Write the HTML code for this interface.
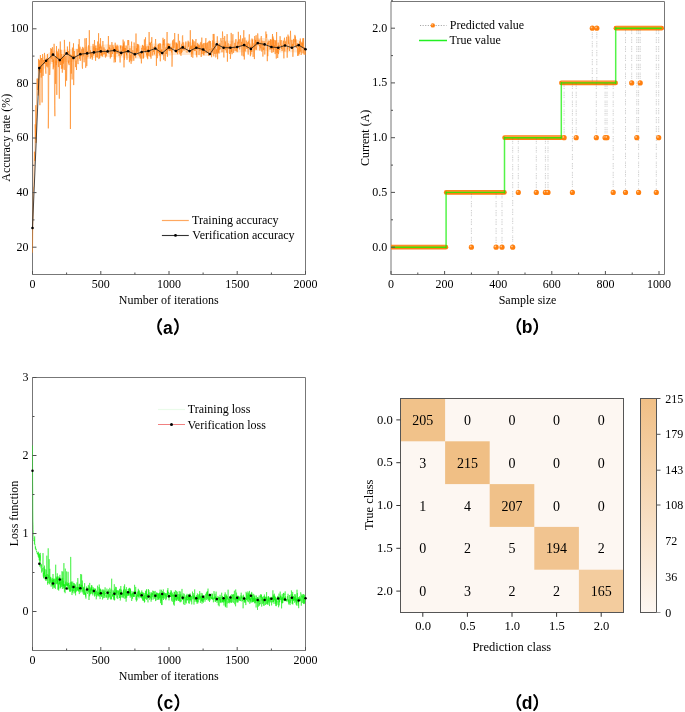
<!DOCTYPE html>
<html><head><meta charset="utf-8"><style>
html,body{margin:0;padding:0;background:#fff;width:685px;height:712px;overflow:hidden}
svg{display:block;will-change:transform}
text{font-family:"Liberation Serif",serif;fill:#000}
text.pl{font-family:"Liberation Sans",sans-serif;font-weight:bold;font-size:17.5px;fill:#000}
</style></head><body>
<svg width="685" height="712" viewBox="0 0 685 712"><g>
<path d="M32.5,1.5H305.5V274.5H32.5Z" fill="none" stroke="#777" stroke-width="1"/>
<g id="pa">
<polygon points="39.3,60.2 42.1,58.5 44.8,55.7 47.5,53.5 50.2,52.1 53.0,50.7 55.7,50.5 58.4,50.3 61.2,50.1 63.9,49.7 66.6,49.4 69.4,49.2 72.1,49.1 74.8,48.8 77.5,48.5 80.3,48.1 83.0,47.5 85.7,46.8 88.5,46.3 91.2,46.0 93.9,45.6 96.7,45.3 99.4,45.0 102.1,44.7 104.8,44.5 107.6,44.3 110.3,44.4 113.0,44.4 115.8,44.6 118.5,44.8 121.2,45.0 124.0,45.2 126.7,45.5 129.4,45.7 132.1,45.9 134.9,46.2 137.6,45.9 140.3,45.7 143.1,45.2 145.8,44.5 148.5,43.8 151.3,43.7 154.0,43.5 156.7,43.5 159.4,43.6 162.2,43.7 164.9,43.4 167.6,43.1 170.4,42.8 173.1,42.6 175.8,42.4 178.6,42.4 181.3,42.4 184.0,42.4 186.7,42.5 189.5,42.5 192.2,42.4 194.9,42.2 197.7,42.4 200.4,42.9 203.1,43.3 205.9,43.5 208.6,43.6 211.3,43.0 214.0,41.9 216.8,40.7 219.5,40.5 222.2,40.2 225.0,40.2 227.7,40.4 230.4,40.7 233.2,40.4 235.9,40.0 238.6,39.8 241.3,39.8 244.1,39.7 246.8,39.7 249.5,39.7 252.3,39.3 255.0,38.7 257.7,38.1 260.5,38.0 263.2,37.9 265.9,38.3 268.6,39.0 271.4,39.7 274.1,39.9 276.8,40.1 279.6,40.1 282.3,39.9 285.0,39.8 287.8,39.7 290.5,39.7 293.2,39.7 295.9,39.8 298.7,39.9 301.4,40.9 304.1,41.9 304.1,54.4 301.4,53.5 298.7,52.5 295.9,52.4 293.2,52.3 290.5,52.3 287.8,52.3 285.0,52.3 282.3,52.5 279.6,52.6 276.8,52.6 274.1,52.4 271.4,52.3 268.6,51.5 265.9,50.8 263.2,50.5 260.5,50.5 257.7,50.6 255.0,51.3 252.3,51.9 249.5,52.2 246.8,52.2 244.1,52.3 241.3,52.3 238.6,52.4 235.9,52.6 233.2,52.9 230.4,53.3 227.7,53.0 225.0,52.7 222.2,52.7 219.5,53.0 216.8,53.3 214.0,54.5 211.3,55.6 208.6,56.1 205.9,56.0 203.1,55.9 200.4,55.4 197.7,55.0 194.9,54.8 192.2,54.9 189.5,55.1 186.7,55.0 184.0,55.0 181.3,55.0 178.6,54.9 175.8,54.9 173.1,55.1 170.4,55.4 167.6,55.6 164.9,55.9 162.2,56.3 159.4,56.2 156.7,56.1 154.0,56.1 151.3,56.2 148.5,56.4 145.8,57.1 143.1,57.8 140.3,58.2 137.6,58.5 134.9,58.7 132.1,58.5 129.4,58.2 126.7,58.0 124.0,57.8 121.2,57.6 118.5,57.4 115.8,57.1 113.0,57.0 110.3,56.9 107.6,56.9 104.8,57.1 102.1,57.3 99.4,57.5 96.7,57.8 93.9,58.1 91.2,58.5 88.5,58.9 85.7,59.4 83.0,60.0 80.3,60.7 77.5,61.0 74.8,61.4 72.1,61.7 69.4,61.8 66.6,61.9 63.9,62.3 61.2,62.6 58.4,62.9 55.7,63.1 53.0,63.3 50.2,64.7 47.5,66.1 44.8,68.2 42.1,71.0 39.3,72.8" fill="#ff9a3c" opacity="0.22"/>
<polyline points="32.5,252.7 32.8,221.5 33.0,219.9 33.3,192.9 33.6,187.1 33.9,187.1 34.1,164.9 34.4,151.7 34.7,160.8 35.0,158.0 35.2,124.3 35.5,139.8 35.8,105.2 36.0,142.9 36.3,121.6 36.6,117.8 36.9,83.4 37.1,78.6 37.4,89.9 37.7,88.9 38.0,78.5 38.2,95.5 38.5,58.9 38.8,59.5 39.1,71.2 39.3,60.3 39.6,65.6 39.9,105.2 40.1,66.7 40.4,55.0 40.7,72.8 41.0,64.6 41.2,77.6 41.5,58.0 41.8,75.0 42.1,102.5 42.3,67.8 42.6,54.1 42.9,66.2 43.1,75.9 43.4,66.4 43.7,60.0 44.0,64.0 44.2,62.3 44.5,52.9 44.8,61.8 45.1,64.0 45.3,61.1 45.6,70.9 45.9,73.7 46.1,62.6 46.4,58.8 46.7,66.4 47.0,58.2 47.2,61.1 47.5,54.1 47.8,67.4 48.1,59.0 48.3,128.4 48.6,109.9 48.9,58.1 49.2,59.6 49.4,67.4 49.7,75.0 50.0,71.9 50.2,64.7 50.5,57.0 50.8,48.1 51.1,58.2 51.3,58.8 51.6,48.9 51.9,57.7 52.2,62.0 52.4,47.2 52.7,49.3 53.0,62.1 53.2,69.3 53.5,59.6 53.8,67.4 54.1,43.8 54.3,64.8 54.6,105.8 54.9,116.2 55.2,70.3 55.4,56.7 55.7,83.9 56.0,60.7 56.3,65.1 56.5,46.1 56.8,94.9 57.1,59.9 57.3,51.5 57.6,57.6 57.9,55.0 58.2,53.4 58.4,67.1 58.7,48.8 59.0,60.3 59.3,98.7 59.5,59.8 59.8,54.9 60.1,52.4 60.3,41.5 60.6,65.0 60.9,49.7 61.2,56.2 61.4,68.8 61.7,54.0 62.0,57.9 62.3,72.7 62.5,57.2 62.8,68.6 63.1,56.3 63.3,63.5 63.6,63.5 63.9,54.2 64.2,69.9 64.4,39.9 64.7,48.7 65.0,55.7 65.3,59.1 65.5,86.4 65.8,57.7 66.1,55.6 66.4,60.8 66.6,80.7 66.9,68.7 67.2,64.5 67.4,46.5 67.7,55.0 68.0,55.0 68.3,51.0 68.5,63.4 68.8,60.6 69.1,65.1 69.4,55.3 69.6,41.8 69.9,58.8 70.2,62.4 70.4,129.0 70.7,54.5 71.0,57.3 71.3,73.6 71.5,55.2 71.8,59.4 72.1,79.5 72.4,47.6 72.6,49.9 72.9,59.4 73.2,56.6 73.5,43.3 73.7,85.1 74.0,59.9 74.3,51.0 74.5,57.6 74.8,55.4 75.1,57.9 75.4,56.5 75.6,67.1 75.9,61.3 76.2,60.7 76.5,70.0 76.7,59.3 77.0,49.0 77.3,50.9 77.5,56.5 77.8,62.6 78.1,64.1 78.4,44.4 78.6,45.9 78.9,52.3 79.2,39.1 79.5,58.8 79.7,53.9 80.0,46.7 80.3,60.8 80.5,51.8 80.8,52.3 81.1,56.2 81.4,52.2 81.6,49.9 81.9,49.1 82.2,66.8 82.5,68.7 82.7,46.9 83.0,54.6 83.3,56.3 83.6,48.4 83.8,51.6 84.1,62.3 84.4,54.5 84.6,52.2 84.9,38.4 85.2,44.5 85.5,48.9 85.7,67.8 86.0,62.9 86.3,38.0 86.6,51.0 86.8,66.1 87.1,51.6 87.4,54.4 87.6,51.4 87.9,57.2 88.2,50.0 88.5,45.4 88.7,45.3 89.0,53.8 89.3,30.2 89.6,44.0 89.8,51.3 90.1,54.1 90.4,58.6 90.6,50.3 90.9,54.6 91.2,52.2 91.5,56.2 91.7,57.2 92.0,52.1 92.3,59.7 92.6,55.1 92.8,47.3 93.1,43.9 93.4,49.7 93.7,55.5 93.9,46.6 94.2,51.8 94.5,40.0 94.7,46.5 95.0,51.7 95.3,48.1 95.6,60.8 95.8,45.6 96.1,57.0 96.4,57.2 96.7,55.5 96.9,48.2 97.2,49.0 97.5,57.5 97.7,41.5 98.0,49.9 98.3,50.3 98.6,33.2 98.8,59.1 99.1,57.9 99.4,46.7 99.7,58.2 99.9,43.7 100.2,48.2 100.5,38.1 100.8,52.3 101.0,55.9 101.3,46.5 101.6,55.3 101.8,52.8 102.1,51.2 102.4,56.5 102.7,50.9 102.9,41.0 103.2,54.6 103.5,53.8 103.8,50.9 104.0,47.4 104.3,49.3 104.6,54.3 104.8,51.8 105.1,49.3 105.4,57.6 105.7,57.4 105.9,52.0 106.2,56.2 106.5,51.2 106.8,52.3 107.0,51.8 107.3,49.9 107.6,49.1 107.8,51.1 108.1,47.5 108.4,36.0 108.7,48.9 108.9,53.7 109.2,47.1 109.5,49.3 109.8,47.6 110.0,45.1 110.3,58.5 110.6,51.1 110.9,48.4 111.1,57.1 111.4,55.8 111.7,49.0 111.9,42.1 112.2,51.7 112.5,54.0 112.8,48.4 113.0,45.3 113.3,50.7 113.6,47.4 113.9,48.4 114.1,62.5 114.4,59.0 114.7,50.8 114.9,59.3 115.2,42.7 115.5,62.2 115.8,45.9 116.0,53.7 116.3,46.7 116.6,51.3 116.9,47.1 117.1,44.8 117.4,49.1 117.7,53.5 117.9,46.1 118.2,51.6 118.5,49.8 118.8,51.0 119.0,55.9 119.3,51.9 119.6,53.0 119.9,55.7 120.1,62.5 120.4,45.6 120.7,48.4 121.0,45.7 121.2,51.2 121.5,55.5 121.8,54.7 122.0,49.7 122.3,50.7 122.6,46.4 122.9,53.4 123.1,39.6 123.4,50.9 123.7,43.3 124.0,67.4 124.2,41.5 124.5,59.8 124.8,47.9 125.0,52.1 125.3,48.1 125.6,48.8 125.9,53.3 126.1,45.6 126.4,55.3 126.7,52.6 127.0,59.8 127.2,53.5 127.5,46.6 127.8,40.1 128.1,43.4 128.3,45.3 128.6,40.0 128.9,41.7 129.1,48.7 129.4,62.2 129.7,52.7 130.0,48.2 130.2,60.5 130.5,55.6 130.8,54.9 131.1,63.8 131.3,50.5 131.6,41.6 131.9,61.3 132.1,58.2 132.4,51.5 132.7,50.2 133.0,50.5 133.2,53.6 133.5,54.8 133.8,60.8 134.1,42.5 134.3,45.3 134.6,55.6 134.9,52.4 135.1,53.6 135.4,54.4 135.7,57.7 136.0,33.5 136.2,53.3 136.5,48.3 136.8,53.1 137.1,50.6 137.3,43.9 137.6,51.5 137.9,44.2 138.2,55.3 138.4,48.4 138.7,44.6 139.0,47.9 139.2,55.2 139.5,56.5 139.8,53.6 140.1,55.1 140.3,58.6 140.6,52.7 140.9,55.5 141.2,57.9 141.4,63.4 141.7,47.9 142.0,49.6 142.2,48.1 142.5,44.9 142.8,49.2 143.1,58.8 143.3,45.9 143.6,58.1 143.9,50.5 144.2,50.4 144.4,39.4 144.7,50.3 145.0,47.9 145.2,50.9 145.5,37.3 145.8,52.9 146.1,46.4 146.3,52.9 146.6,55.4 146.9,52.7 147.2,57.7 147.4,49.3 147.7,59.2 148.0,45.8 148.3,50.3 148.5,46.6 148.8,55.9 149.1,32.0 149.3,43.8 149.6,44.9 149.9,42.2 150.2,56.8 150.4,42.9 150.7,43.4 151.0,58.7 151.3,41.7 151.5,42.8 151.8,37.1 152.1,45.1 152.3,45.6 152.6,55.4 152.9,54.4 153.2,47.2 153.4,51.8 153.7,51.0 154.0,50.2 154.3,49.6 154.5,54.5 154.8,46.0 155.1,48.5 155.3,43.6 155.6,39.0 155.9,45.6 156.2,49.0 156.4,65.9 156.7,49.8 157.0,48.5 157.3,58.2 157.5,49.4 157.8,52.3 158.1,44.9 158.4,48.8 158.6,44.2 158.9,53.3 159.2,43.4 159.4,43.4 159.7,55.3 160.0,50.1 160.3,61.3 160.5,43.5 160.8,47.5 161.1,53.0 161.4,49.8 161.6,52.2 161.9,49.5 162.2,51.9 162.4,48.6 162.7,43.4 163.0,37.8 163.3,45.4 163.5,39.9 163.8,59.7 164.1,46.0 164.4,45.6 164.6,39.1 164.9,49.8 165.2,61.1 165.5,54.7 165.7,50.5 166.0,47.3 166.3,54.0 166.5,49.3 166.8,43.9 167.1,32.0 167.4,56.9 167.6,43.6 167.9,50.3 168.2,48.6 168.5,43.6 168.7,46.5 169.0,47.0 169.3,51.1 169.5,46.9 169.8,43.9 170.1,50.8 170.4,48.5 170.6,50.3 170.9,49.9 171.2,46.8 171.5,52.4 171.7,47.3 172.0,66.7 172.3,59.2 172.5,40.4 172.8,45.2 173.1,47.0 173.4,48.9 173.6,39.4 173.9,47.9 174.2,45.5 174.5,44.2 174.7,33.0 175.0,50.0 175.3,50.2 175.6,49.8 175.8,47.8 176.1,42.4 176.4,52.9 176.6,43.2 176.9,52.0 177.2,43.9 177.5,54.2 177.7,52.0 178.0,44.5 178.3,33.9 178.6,42.3 178.8,43.9 179.1,52.3 179.4,49.0 179.6,40.8 179.9,54.1 180.2,49.6 180.5,47.0 180.7,54.2 181.0,55.8 181.3,47.7 181.6,53.1 181.8,44.3 182.1,51.9 182.4,36.4 182.7,35.4 182.9,44.3 183.2,42.4 183.5,49.5 183.7,44.6 184.0,50.7 184.3,48.7 184.6,49.4 184.8,46.5 185.1,46.6 185.4,49.1 185.7,44.5 185.9,41.5 186.2,52.3 186.5,52.0 186.7,52.2 187.0,52.5 187.3,52.3 187.6,48.7 187.8,45.1 188.1,40.7 188.4,46.8 188.7,43.0 188.9,41.8 189.2,46.7 189.5,51.7 189.7,48.2 190.0,48.8 190.3,30.2 190.6,49.1 190.8,46.2 191.1,51.0 191.4,56.9 191.7,45.6 191.9,53.7 192.2,48.2 192.5,39.3 192.8,57.8 193.0,39.9 193.3,50.1 193.6,50.3 193.8,48.6 194.1,41.2 194.4,49.0 194.7,51.1 194.9,44.9 195.2,50.8 195.5,42.1 195.8,41.0 196.0,39.0 196.3,55.3 196.6,51.0 196.8,57.3 197.1,48.4 197.4,43.2 197.7,49.4 197.9,46.4 198.2,45.4 198.5,48.7 198.8,44.2 199.0,54.9 199.3,47.5 199.6,45.4 199.8,50.7 200.1,50.6 200.4,45.6 200.7,42.6 200.9,41.9 201.2,57.0 201.5,47.4 201.8,37.6 202.0,54.0 202.3,45.8 202.6,44.5 202.9,47.5 203.1,52.9 203.4,54.5 203.7,43.2 203.9,55.3 204.2,51.7 204.5,48.2 204.8,53.1 205.0,42.9 205.3,48.5 205.6,41.7 205.9,38.1 206.1,53.2 206.4,49.8 206.7,45.8 206.9,42.9 207.2,52.6 207.5,46.9 207.8,42.3 208.0,44.1 208.3,48.7 208.6,55.7 208.9,41.3 209.1,43.2 209.4,40.7 209.7,50.2 209.9,49.2 210.2,52.3 210.5,41.1 210.8,47.9 211.0,48.2 211.3,49.4 211.6,57.2 211.9,52.0 212.1,47.8 212.4,52.5 212.7,40.4 213.0,47.0 213.2,34.0 213.5,48.0 213.8,56.4 214.0,33.9 214.3,41.2 214.6,52.8 214.9,54.0 215.1,46.0 215.4,45.2 215.7,57.4 216.0,56.7 216.2,53.8 216.5,49.4 216.8,53.7 217.0,45.8 217.3,36.3 217.6,59.2 217.9,47.8 218.1,45.1 218.4,52.6 218.7,44.8 219.0,53.6 219.2,43.7 219.5,49.8 219.8,43.5 220.1,48.0 220.3,49.4 220.6,47.8 220.9,38.1 221.1,40.9 221.4,41.3 221.7,41.1 222.0,52.2 222.2,49.9 222.5,31.5 222.8,36.7 223.1,38.5 223.3,38.0 223.6,52.3 223.9,57.5 224.1,45.6 224.4,47.0 224.7,36.1 225.0,46.4 225.2,50.2 225.5,41.5 225.8,47.7 226.1,45.7 226.3,50.2 226.6,51.0 226.9,52.8 227.1,34.1 227.4,61.7 227.7,48.2 228.0,45.0 228.2,43.3 228.5,48.6 228.8,48.8 229.1,47.3 229.3,46.1 229.6,54.0 229.9,51.5 230.2,44.1 230.4,58.9 230.7,54.5 231.0,50.0 231.2,32.9 231.5,51.9 231.8,47.7 232.1,54.2 232.3,44.0 232.6,40.2 232.9,34.2 233.2,45.0 233.4,52.8 233.7,51.2 234.0,46.6 234.2,48.1 234.5,48.7 234.8,42.8 235.1,50.9 235.3,46.6 235.6,44.3 235.9,39.0 236.2,50.5 236.4,51.2 236.7,48.2 237.0,48.0 237.2,52.2 237.5,49.8 237.8,41.7 238.1,47.1 238.3,31.8 238.6,39.7 238.9,43.7 239.2,39.2 239.4,43.7 239.7,49.4 240.0,46.6 240.3,43.4 240.5,35.3 240.8,41.9 241.1,46.3 241.3,43.6 241.6,41.8 241.9,55.6 242.2,43.8 242.4,38.4 242.7,44.9 243.0,46.8 243.3,56.4 243.5,37.5 243.8,30.2 244.1,42.1 244.3,59.5 244.6,51.4 244.9,37.5 245.2,51.4 245.4,45.1 245.7,44.0 246.0,46.1 246.3,40.7 246.5,45.4 246.8,48.8 247.1,45.7 247.4,48.2 247.6,42.3 247.9,49.3 248.2,54.6 248.4,41.4 248.7,43.7 249.0,42.2 249.3,34.3 249.5,47.6 249.8,43.5 250.1,45.3 250.4,56.2 250.6,47.2 250.9,54.5 251.2,45.8 251.4,51.6 251.7,52.0 252.0,38.5 252.3,48.1 252.5,39.7 252.8,44.0 253.1,56.9 253.4,50.5 253.6,49.6 253.9,43.4 254.2,44.2 254.4,59.1 254.7,36.1 255.0,48.1 255.3,49.5 255.5,40.0 255.8,45.6 256.1,35.2 256.4,49.8 256.6,47.0 256.9,46.4 257.2,40.2 257.5,40.7 257.7,33.4 258.0,36.5 258.3,40.9 258.5,44.7 258.8,45.3 259.1,39.5 259.4,46.3 259.6,45.2 259.9,50.6 260.2,42.5 260.5,45.9 260.7,48.3 261.0,37.9 261.3,36.1 261.5,46.3 261.8,51.6 262.1,40.7 262.4,45.6 262.6,43.4 262.9,56.6 263.2,47.4 263.5,49.9 263.7,49.1 264.0,40.9 264.3,49.1 264.6,48.7 264.8,54.5 265.1,46.6 265.4,42.4 265.6,42.4 265.9,31.5 266.2,37.9 266.5,36.9 266.7,34.2 267.0,46.1 267.3,61.2 267.6,42.9 267.8,56.2 268.1,41.5 268.4,44.4 268.6,41.5 268.9,40.5 269.2,41.5 269.5,41.0 269.7,48.5 270.0,49.7 270.3,46.9 270.6,39.3 270.8,49.2 271.1,39.6 271.4,41.4 271.6,50.2 271.9,52.9 272.2,40.7 272.5,34.0 272.7,49.1 273.0,36.5 273.3,52.1 273.6,38.7 273.8,49.9 274.1,45.2 274.4,47.9 274.7,44.4 274.9,40.0 275.2,54.1 275.5,41.3 275.7,40.7 276.0,50.9 276.3,58.6 276.6,32.0 276.8,47.7 277.1,53.0 277.4,48.0 277.7,58.0 277.9,52.3 278.2,42.6 278.5,54.1 278.7,50.6 279.0,45.1 279.3,48.5 279.6,49.9 279.8,50.0 280.1,36.2 280.4,45.5 280.7,44.1 280.9,42.2 281.2,40.1 281.5,48.9 281.7,45.0 282.0,51.0 282.3,50.1 282.6,48.0 282.8,44.3 283.1,42.8 283.4,40.9 283.7,52.0 283.9,58.4 284.2,40.3 284.5,37.7 284.8,51.4 285.0,44.2 285.3,45.7 285.6,41.4 285.8,43.2 286.1,44.6 286.4,40.6 286.7,36.8 286.9,47.6 287.2,57.7 287.5,47.3 287.8,49.4 288.0,34.6 288.3,40.9 288.6,43.9 288.8,36.4 289.1,42.6 289.4,51.0 289.7,47.1 289.9,42.6 290.2,41.7 290.5,30.8 290.8,40.4 291.0,48.4 291.3,46.9 291.6,46.1 291.9,39.9 292.1,46.5 292.4,43.9 292.7,48.3 292.9,56.8 293.2,48.9 293.5,38.9 293.8,46.0 294.0,44.1 294.3,44.2 294.6,38.5 294.9,34.9 295.1,42.2 295.4,36.4 295.7,46.1 295.9,39.3 296.2,47.7 296.5,45.2 296.8,47.7 297.0,47.9 297.3,43.2 297.6,55.9 297.9,48.1 298.1,50.9 298.4,51.3 298.7,55.6 298.9,44.1 299.2,54.2 299.5,44.8 299.8,41.2 300.0,52.1 300.3,38.5 300.6,50.5 300.9,50.0 301.1,55.0 301.4,53.6 301.7,42.3 302.0,47.5 302.2,43.0 302.5,47.1 302.8,38.3 303.0,53.2 303.3,43.9 303.6,38.2 303.9,50.6 304.1,54.5 304.4,47.2 304.7,47.6 305.0,51.7 305.2,54.8 305.5,50.3" fill="none" stroke="#ff7f0e" stroke-width="0.6" stroke-linejoin="bevel" opacity="0.95"/>
<polyline points="32.5,228.0 39.3,68.1 46.1,60.8 53.0,54.6 59.8,60.1 66.6,53.4 73.5,57.9 80.3,54.2 87.1,53.4 93.9,52.4 100.8,51.4 107.6,51.4 114.4,50.4 121.2,52.9 128.1,51.2 134.9,54.3 141.7,52.1 148.5,51.0 155.3,48.5 162.2,53.1 169.0,47.4 175.8,51.0 182.7,47.4 189.5,51.1 196.3,47.7 203.1,49.5 209.9,54.0 216.8,44.3 223.6,47.7 230.4,47.7 237.2,47.0 244.1,45.1 250.9,48.9 257.7,43.1 264.6,44.4 271.4,47.0 278.2,47.7 285.0,45.5 291.9,47.7 298.7,45.1 305.5,49.2" fill="none" stroke="#1a1a1a" stroke-width="0.8" />
<circle cx="32.5" cy="228.0" r="1.3" fill="#000"/>
<circle cx="39.3" cy="68.1" r="1.3" fill="#000"/>
<circle cx="46.1" cy="60.8" r="1.3" fill="#000"/>
<circle cx="53.0" cy="54.6" r="1.3" fill="#000"/>
<circle cx="59.8" cy="60.1" r="1.3" fill="#000"/>
<circle cx="66.6" cy="53.4" r="1.3" fill="#000"/>
<circle cx="73.5" cy="57.9" r="1.3" fill="#000"/>
<circle cx="80.3" cy="54.2" r="1.3" fill="#000"/>
<circle cx="87.1" cy="53.4" r="1.3" fill="#000"/>
<circle cx="93.9" cy="52.4" r="1.3" fill="#000"/>
<circle cx="100.8" cy="51.4" r="1.3" fill="#000"/>
<circle cx="107.6" cy="51.4" r="1.3" fill="#000"/>
<circle cx="114.4" cy="50.4" r="1.3" fill="#000"/>
<circle cx="121.2" cy="52.9" r="1.3" fill="#000"/>
<circle cx="128.1" cy="51.2" r="1.3" fill="#000"/>
<circle cx="134.9" cy="54.3" r="1.3" fill="#000"/>
<circle cx="141.7" cy="52.1" r="1.3" fill="#000"/>
<circle cx="148.5" cy="51.0" r="1.3" fill="#000"/>
<circle cx="155.3" cy="48.5" r="1.3" fill="#000"/>
<circle cx="162.2" cy="53.1" r="1.3" fill="#000"/>
<circle cx="169.0" cy="47.4" r="1.3" fill="#000"/>
<circle cx="175.8" cy="51.0" r="1.3" fill="#000"/>
<circle cx="182.7" cy="47.4" r="1.3" fill="#000"/>
<circle cx="189.5" cy="51.1" r="1.3" fill="#000"/>
<circle cx="196.3" cy="47.7" r="1.3" fill="#000"/>
<circle cx="203.1" cy="49.5" r="1.3" fill="#000"/>
<circle cx="209.9" cy="54.0" r="1.3" fill="#000"/>
<circle cx="216.8" cy="44.3" r="1.3" fill="#000"/>
<circle cx="223.6" cy="47.7" r="1.3" fill="#000"/>
<circle cx="230.4" cy="47.7" r="1.3" fill="#000"/>
<circle cx="237.2" cy="47.0" r="1.3" fill="#000"/>
<circle cx="244.1" cy="45.1" r="1.3" fill="#000"/>
<circle cx="250.9" cy="48.9" r="1.3" fill="#000"/>
<circle cx="257.7" cy="43.1" r="1.3" fill="#000"/>
<circle cx="264.6" cy="44.4" r="1.3" fill="#000"/>
<circle cx="271.4" cy="47.0" r="1.3" fill="#000"/>
<circle cx="278.2" cy="47.7" r="1.3" fill="#000"/>
<circle cx="285.0" cy="45.5" r="1.3" fill="#000"/>
<circle cx="291.9" cy="47.7" r="1.3" fill="#000"/>
<circle cx="298.7" cy="45.1" r="1.3" fill="#000"/>
<circle cx="305.5" cy="49.2" r="1.3" fill="#000"/>
</g>
<path d="M32.5,247.2h4" stroke="#505050"/>
<text x="28.6" y="250.5" font-size="12" text-anchor="end" >20</text>
<path d="M32.5,219.9h2" stroke="#505050"/>
<path d="M32.5,192.6h4" stroke="#505050"/>
<text x="28.6" y="195.9" font-size="12" text-anchor="end" >40</text>
<path d="M32.5,165.3h2" stroke="#505050"/>
<path d="M32.5,138.0h4" stroke="#505050"/>
<text x="28.6" y="141.3" font-size="12" text-anchor="end" >60</text>
<path d="M32.5,110.7h2" stroke="#505050"/>
<path d="M32.5,83.4h4" stroke="#505050"/>
<text x="28.6" y="86.7" font-size="12" text-anchor="end" >80</text>
<path d="M32.5,56.1h2" stroke="#505050"/>
<path d="M32.5,28.8h4" stroke="#505050"/>
<text x="28.6" y="32.1" font-size="12" text-anchor="end" >100</text>
<path d="M32.5,274.5v-3.5" stroke="#505050"/>
<text x="32.5" y="288.0" font-size="12" text-anchor="middle" >0</text>
<path d="M66.6,274.5v-2" stroke="#505050"/>
<path d="M100.8,274.5v-3.5" stroke="#505050"/>
<text x="100.8" y="288.0" font-size="12" text-anchor="middle" >500</text>
<path d="M134.9,274.5v-2" stroke="#505050"/>
<path d="M169.0,274.5v-3.5" stroke="#505050"/>
<text x="169.0" y="288.0" font-size="12" text-anchor="middle" >1000</text>
<path d="M203.1,274.5v-2" stroke="#505050"/>
<path d="M237.2,274.5v-3.5" stroke="#505050"/>
<text x="237.2" y="288.0" font-size="12" text-anchor="middle" >1500</text>
<path d="M271.4,274.5v-2" stroke="#505050"/>
<path d="M305.5,274.5v-3.5" stroke="#505050"/>
<text x="305.5" y="288.0" font-size="12" text-anchor="middle" >2000</text>
<text x="168.8" y="303.9" font-size="12" text-anchor="middle" >Number of iterations</text>
<text x="0" y="0" font-size="12" text-anchor="middle" transform="translate(9.8,137.8) rotate(-90)">Accuracy rate (%)</text>
<path d="M161.9,220.5H188.8" stroke="#ffa860" stroke-width="1.2"/>
<text x="192.1" y="223.9" font-size="12" text-anchor="start" >Training accuracy</text>
<path d="M161.9,235.5H188.8" stroke="#333" stroke-width="1.1"/><circle cx="175.5" cy="235.4" r="1.4" fill="#000"/>
<text x="192.3" y="238.9" font-size="12" text-anchor="start" >Verification accuracy</text>
<path d="M391.0,1.5H664.5V274.5H391.0Z" fill="none" stroke="#777" stroke-width="1"/>
<defs><clipPath id="cpb"><rect x="391" y="1" width="273.5" height="274"/></clipPath></defs><g id="pb" clip-path="url(#cpb)">
<path d="M391.3,247.2H445.9" stroke="#ff7f0e" stroke-width="4.7" stroke-linecap="round"/>
<path d="M391.3,246.0H445.9" stroke="#ffa04a" stroke-width="1" opacity="0.8"/>
<path d="M446.2,192.4H504.4" stroke="#ff7f0e" stroke-width="4.7" stroke-linecap="round"/>
<path d="M446.2,191.2H504.4" stroke="#ffa04a" stroke-width="1" opacity="0.8"/>
<path d="M504.6,137.7H561.2" stroke="#ff7f0e" stroke-width="4.7" stroke-linecap="round"/>
<path d="M504.6,136.5H561.2" stroke="#ffa04a" stroke-width="1" opacity="0.8"/>
<path d="M561.4,82.9H615.6" stroke="#ff7f0e" stroke-width="4.7" stroke-linecap="round"/>
<path d="M561.4,81.7H615.6" stroke="#ffa04a" stroke-width="1" opacity="0.8"/>
<path d="M615.9,28.2H661.7" stroke="#ff7f0e" stroke-width="4.7" stroke-linecap="round"/>
<path d="M615.9,27.0H661.7" stroke="#ffa04a" stroke-width="1" opacity="0.8"/>
<path d="M471.4,192.4V247.2" fill="none" stroke="#777" stroke-width="0.7" stroke-dasharray="0.8 0.9 0.8 0.9 0.8 0.9 0.8 3" opacity="0.65"/>
<path d="M496.1,192.4V247.2" fill="none" stroke="#777" stroke-width="0.7" stroke-dasharray="0.8 0.9 0.8 0.9 0.8 0.9 0.8 3" opacity="0.65"/>
<path d="M502.0,192.4V247.2" fill="none" stroke="#777" stroke-width="0.7" stroke-dasharray="0.8 0.9 0.8 0.9 0.8 0.9 0.8 3" opacity="0.65"/>
<path d="M512.7,137.7V247.2" fill="none" stroke="#777" stroke-width="0.7" stroke-dasharray="0.8 0.9 0.8 0.9 0.8 0.9 0.8 3" opacity="0.65"/>
<path d="M518.3,137.7V192.4" fill="none" stroke="#777" stroke-width="0.7" stroke-dasharray="0.8 0.9 0.8 0.9 0.8 0.9 0.8 3" opacity="0.65"/>
<path d="M536.3,137.7V192.4" fill="none" stroke="#777" stroke-width="0.7" stroke-dasharray="0.8 0.9 0.8 0.9 0.8 0.9 0.8 3" opacity="0.65"/>
<path d="M545.4,137.7V192.4" fill="none" stroke="#777" stroke-width="0.7" stroke-dasharray="0.8 0.9 0.8 0.9 0.8 0.9 0.8 3" opacity="0.65"/>
<path d="M548.0,137.7V192.4" fill="none" stroke="#777" stroke-width="0.7" stroke-dasharray="0.8 0.9 0.8 0.9 0.8 0.9 0.8 3" opacity="0.65"/>
<path d="M572.4,82.9V192.4" fill="none" stroke="#777" stroke-width="0.7" stroke-dasharray="0.8 0.9 0.8 0.9 0.8 0.9 0.8 3" opacity="0.65"/>
<path d="M613.2,82.9V192.4" fill="none" stroke="#777" stroke-width="0.7" stroke-dasharray="0.8 0.9 0.8 0.9 0.8 0.9 0.8 3" opacity="0.65"/>
<path d="M564.1,82.9V137.7" fill="none" stroke="#777" stroke-width="0.7" stroke-dasharray="0.8 0.9 0.8 0.9 0.8 0.9 0.8 3" opacity="0.65"/>
<path d="M576.2,82.9V137.7" fill="none" stroke="#777" stroke-width="0.7" stroke-dasharray="0.8 0.9 0.8 0.9 0.8 0.9 0.8 3" opacity="0.65"/>
<path d="M596.3,82.9V137.7" fill="none" stroke="#777" stroke-width="0.7" stroke-dasharray="0.8 0.9 0.8 0.9 0.8 0.9 0.8 3" opacity="0.65"/>
<path d="M605.1,82.9V137.7" fill="none" stroke="#777" stroke-width="0.7" stroke-dasharray="0.8 0.9 0.8 0.9 0.8 0.9 0.8 3" opacity="0.65"/>
<path d="M607.0,82.9V137.7" fill="none" stroke="#777" stroke-width="0.7" stroke-dasharray="0.8 0.9 0.8 0.9 0.8 0.9 0.8 3" opacity="0.65"/>
<path d="M592.3,82.9V28.2" fill="none" stroke="#777" stroke-width="0.7" stroke-dasharray="0.8 0.9 0.8 0.9 0.8 0.9 0.8 3" opacity="0.65"/>
<path d="M596.8,82.9V28.2" fill="none" stroke="#777" stroke-width="0.7" stroke-dasharray="0.8 0.9 0.8 0.9 0.8 0.9 0.8 3" opacity="0.65"/>
<path d="M625.5,28.2V192.4" fill="none" stroke="#777" stroke-width="0.7" stroke-dasharray="0.8 0.9 0.8 0.9 0.8 0.9 0.8 3" opacity="0.65"/>
<path d="M638.6,28.2V192.4" fill="none" stroke="#777" stroke-width="0.7" stroke-dasharray="0.8 0.9 0.8 0.9 0.8 0.9 0.8 3" opacity="0.65"/>
<path d="M656.3,28.2V192.4" fill="none" stroke="#777" stroke-width="0.7" stroke-dasharray="0.8 0.9 0.8 0.9 0.8 0.9 0.8 3" opacity="0.65"/>
<path d="M636.8,28.2V137.7" fill="none" stroke="#777" stroke-width="0.7" stroke-dasharray="0.8 0.9 0.8 0.9 0.8 0.9 0.8 3" opacity="0.65"/>
<path d="M658.7,28.2V137.7" fill="none" stroke="#777" stroke-width="0.7" stroke-dasharray="0.8 0.9 0.8 0.9 0.8 0.9 0.8 3" opacity="0.65"/>
<path d="M631.7,28.2V82.9" fill="none" stroke="#777" stroke-width="0.7" stroke-dasharray="0.8 0.9 0.8 0.9 0.8 0.9 0.8 3" opacity="0.65"/>
<path d="M640.2,28.2V82.9" fill="none" stroke="#777" stroke-width="0.7" stroke-dasharray="0.8 0.9 0.8 0.9 0.8 0.9 0.8 3" opacity="0.65"/>
<circle cx="471.4" cy="247.2" r="2.6" fill="#ff7f0e"/><circle cx="470.6" cy="246.4" r="0.9" fill="#ffc58a"/>
<circle cx="496.1" cy="247.2" r="2.6" fill="#ff7f0e"/><circle cx="495.3" cy="246.4" r="0.9" fill="#ffc58a"/>
<circle cx="502.0" cy="247.2" r="2.6" fill="#ff7f0e"/><circle cx="501.2" cy="246.4" r="0.9" fill="#ffc58a"/>
<circle cx="512.7" cy="247.2" r="2.6" fill="#ff7f0e"/><circle cx="511.9" cy="246.4" r="0.9" fill="#ffc58a"/>
<circle cx="518.3" cy="192.4" r="2.6" fill="#ff7f0e"/><circle cx="517.5" cy="191.6" r="0.9" fill="#ffc58a"/>
<circle cx="536.3" cy="192.4" r="2.6" fill="#ff7f0e"/><circle cx="535.5" cy="191.6" r="0.9" fill="#ffc58a"/>
<circle cx="545.4" cy="192.4" r="2.6" fill="#ff7f0e"/><circle cx="544.6" cy="191.6" r="0.9" fill="#ffc58a"/>
<circle cx="548.0" cy="192.4" r="2.6" fill="#ff7f0e"/><circle cx="547.2" cy="191.6" r="0.9" fill="#ffc58a"/>
<circle cx="572.4" cy="192.4" r="2.6" fill="#ff7f0e"/><circle cx="571.6" cy="191.6" r="0.9" fill="#ffc58a"/>
<circle cx="613.2" cy="192.4" r="2.6" fill="#ff7f0e"/><circle cx="612.4" cy="191.6" r="0.9" fill="#ffc58a"/>
<circle cx="564.1" cy="137.7" r="2.6" fill="#ff7f0e"/><circle cx="563.3" cy="136.9" r="0.9" fill="#ffc58a"/>
<circle cx="576.2" cy="137.7" r="2.6" fill="#ff7f0e"/><circle cx="575.4" cy="136.9" r="0.9" fill="#ffc58a"/>
<circle cx="596.3" cy="137.7" r="2.6" fill="#ff7f0e"/><circle cx="595.5" cy="136.9" r="0.9" fill="#ffc58a"/>
<circle cx="605.1" cy="137.7" r="2.6" fill="#ff7f0e"/><circle cx="604.3" cy="136.9" r="0.9" fill="#ffc58a"/>
<circle cx="607.0" cy="137.7" r="2.6" fill="#ff7f0e"/><circle cx="606.2" cy="136.9" r="0.9" fill="#ffc58a"/>
<circle cx="592.3" cy="28.2" r="2.6" fill="#ff7f0e"/><circle cx="591.5" cy="27.4" r="0.9" fill="#ffc58a"/>
<circle cx="596.8" cy="28.2" r="2.6" fill="#ff7f0e"/><circle cx="596.0" cy="27.4" r="0.9" fill="#ffc58a"/>
<circle cx="625.5" cy="192.4" r="2.6" fill="#ff7f0e"/><circle cx="624.7" cy="191.6" r="0.9" fill="#ffc58a"/>
<circle cx="638.6" cy="192.4" r="2.6" fill="#ff7f0e"/><circle cx="637.8" cy="191.6" r="0.9" fill="#ffc58a"/>
<circle cx="656.3" cy="192.4" r="2.6" fill="#ff7f0e"/><circle cx="655.5" cy="191.6" r="0.9" fill="#ffc58a"/>
<circle cx="636.8" cy="137.7" r="2.6" fill="#ff7f0e"/><circle cx="636.0" cy="136.9" r="0.9" fill="#ffc58a"/>
<circle cx="658.7" cy="137.7" r="2.6" fill="#ff7f0e"/><circle cx="657.9" cy="136.9" r="0.9" fill="#ffc58a"/>
<circle cx="631.7" cy="82.9" r="2.6" fill="#ff7f0e"/><circle cx="630.9" cy="82.1" r="0.9" fill="#ffc58a"/>
<circle cx="640.2" cy="82.9" r="2.6" fill="#ff7f0e"/><circle cx="639.4" cy="82.1" r="0.9" fill="#ffc58a"/>
<path d="M391.3,247.2H446.1 M446.1,247.2H446.1 M446.1,192.4H504.5 M504.5,192.4H504.5 M504.5,137.7H561.3 M561.3,137.7H561.3 M561.3,82.9H615.7 M615.7,82.9H615.7 M615.7,28.2H661.7" stroke="#22ee00" stroke-width="1.4" opacity="0.85" fill="none"/>
<path d="M446.1,248.2V246.2 M446.1,248.2V191.4 M504.5,193.4V191.4 M504.5,193.4V136.7 M561.3,138.7V136.7 M561.3,138.7V81.9 M615.7,83.9V81.9 M615.7,83.9V27.2" stroke="#11f000" stroke-width="1.5" opacity="0.72" fill="none"/>
</g>
<path d="M391,247.2h4" stroke="#505050"/>
<text x="387.2" y="250.5" font-size="12" text-anchor="end" >0.0</text>
<path d="M391,219.8h2" stroke="#505050"/>
<path d="M391,192.4h4" stroke="#505050"/>
<text x="387.2" y="195.8" font-size="12" text-anchor="end" >0.5</text>
<path d="M391,165.1h2" stroke="#505050"/>
<path d="M391,137.7h4" stroke="#505050"/>
<text x="387.2" y="141.0" font-size="12" text-anchor="end" >1.0</text>
<path d="M391,110.3h2" stroke="#505050"/>
<path d="M391,82.9h4" stroke="#505050"/>
<text x="387.2" y="86.2" font-size="12" text-anchor="end" >1.5</text>
<path d="M391,55.6h2" stroke="#505050"/>
<path d="M391,28.2h4" stroke="#505050"/>
<text x="387.2" y="31.5" font-size="12" text-anchor="end" >2.0</text>
<path d="M391,0.8h2" stroke="#505050"/>
<path d="M391.0,274.5v-3.5" stroke="#505050"/>
<text x="391.0" y="288.0" font-size="12" text-anchor="middle" >0</text>
<path d="M417.8,274.5v-2" stroke="#505050"/>
<path d="M444.6,274.5v-3.5" stroke="#505050"/>
<text x="444.6" y="288.0" font-size="12" text-anchor="middle" >200</text>
<path d="M471.4,274.5v-2" stroke="#505050"/>
<path d="M498.2,274.5v-3.5" stroke="#505050"/>
<text x="498.2" y="288.0" font-size="12" text-anchor="middle" >400</text>
<path d="M525.0,274.5v-2" stroke="#505050"/>
<path d="M551.8,274.5v-3.5" stroke="#505050"/>
<text x="551.8" y="288.0" font-size="12" text-anchor="middle" >600</text>
<path d="M578.6,274.5v-2" stroke="#505050"/>
<path d="M605.4,274.5v-3.5" stroke="#505050"/>
<text x="605.4" y="288.0" font-size="12" text-anchor="middle" >800</text>
<path d="M632.2,274.5v-2" stroke="#505050"/>
<path d="M659.0,274.5v-3.5" stroke="#505050"/>
<text x="659.0" y="288.0" font-size="12" text-anchor="middle" >1000</text>
<text x="527.5" y="303.5" font-size="12" text-anchor="middle" >Sample size</text>
<text x="0" y="0" font-size="12" text-anchor="middle" transform="translate(368.6,137.8) rotate(-90)">Current (A)</text>
<path d="M420,25.5H446.5" stroke="#999" stroke-width="0.9" stroke-dasharray="1.1 1.5"/>
<circle cx="432.8" cy="25.4" r="2.2" fill="#ff7f0e"/><circle cx="432.1" cy="24.7" r="0.8" fill="#ffc58a"/>
<text x="449.8" y="28.9" font-size="12" text-anchor="start" >Predicted value</text>
<path d="M419,40.5H447" stroke="#22f022" stroke-width="1.5"/>
<text x="449.6" y="43.9" font-size="12" text-anchor="start" >True value</text>
<path d="M32.5,377.5H305.5V650.5H32.5Z" fill="none" stroke="#777" stroke-width="1"/>
<g id="pc">
<polyline points="32.5,445.4 32.6,477.0 32.8,495.3 32.9,510.5 33.0,520.9 33.2,524.4 33.3,529.6 33.5,533.0 33.6,535.4 33.7,538.4 33.9,538.1 34.0,541.0 34.1,539.6 34.3,541.8 34.4,544.2 34.5,542.7 34.7,536.4 34.8,544.9 35.0,544.4 35.1,546.0 35.2,546.8 35.4,548.9 35.5,546.4 35.6,548.2 35.8,548.1 35.9,549.8 36.0,550.1 36.2,548.9 36.3,550.6 36.5,551.0 36.6,552.1 36.7,551.4 36.9,551.4 37.0,552.7 37.1,552.9 37.3,554.1 37.4,552.5 37.6,554.4 37.7,554.4 37.8,553.3 38.0,555.2 38.1,556.6 38.2,556.4 38.4,556.3 38.5,551.8 38.6,556.1 38.8,557.8 38.9,554.8 39.1,553.6 39.2,560.3 39.3,553.8 39.5,555.9 39.6,557.4 39.7,566.5 39.9,558.7 40.0,555.2 40.1,560.7 40.3,552.9 40.4,560.1 40.6,563.8 40.7,565.1 40.8,566.3 41.0,564.9 41.1,568.4 41.2,563.9 41.4,564.3 41.5,568.0 41.6,572.6 41.8,571.4 41.9,568.5 42.1,571.5 42.2,571.1 42.3,570.5 42.5,569.3 42.6,568.0 42.7,568.2 42.9,567.6 43.0,553.1 43.1,573.1 43.3,576.6 43.4,572.9 43.6,574.6 43.7,578.0 43.8,567.4 44.0,578.6 44.1,571.9 44.2,571.5 44.4,574.3 44.5,565.6 44.6,573.9 44.8,576.7 44.9,568.9 45.1,577.3 45.2,579.5 45.3,578.4 45.5,577.5 45.6,575.6 45.7,574.9 45.9,581.0 46.0,575.3 46.1,569.6 46.3,579.0 46.4,577.3 46.6,574.8 46.7,573.3 46.8,555.7 47.0,580.3 47.1,580.6 47.2,574.0 47.4,574.8 47.5,584.6 47.7,584.6 47.8,581.8 47.9,582.8 48.1,576.8 48.2,548.3 48.3,572.2 48.5,575.9 48.6,578.2 48.7,574.9 48.9,581.6 49.0,583.3 49.2,559.2 49.3,576.1 49.4,584.3 49.6,576.5 49.7,576.7 49.8,568.8 50.0,579.1 50.1,580.6 50.2,579.6 50.4,577.4 50.5,582.6 50.7,576.8 50.8,577.5 50.9,577.5 51.1,586.7 51.2,586.5 51.3,578.5 51.5,582.6 51.6,583.1 51.7,583.4 51.9,585.3 52.0,582.1 52.2,583.6 52.3,583.5 52.4,580.0 52.6,585.4 52.7,578.2 52.8,588.9 53.0,574.0 53.1,586.3 53.2,580.1 53.4,579.1 53.5,582.1 53.7,579.7 53.8,582.5 53.9,587.7 54.1,581.1 54.2,578.6 54.3,584.0 54.5,587.7 54.6,584.2 54.7,581.3 54.9,581.4 55.0,578.9 55.2,580.7 55.3,580.9 55.4,588.9 55.6,575.5 55.7,564.7 55.8,579.9 56.0,583.7 56.1,583.1 56.3,582.5 56.4,577.7 56.5,577.9 56.7,580.8 56.8,576.5 56.9,584.1 57.1,581.2 57.2,584.4 57.3,573.3 57.5,582.9 57.6,579.9 57.8,577.5 57.9,589.7 58.0,576.2 58.2,582.1 58.3,584.2 58.4,589.3 58.6,584.2 58.7,590.6 58.8,583.0 59.0,583.9 59.1,577.5 59.3,584.4 59.4,580.0 59.5,579.7 59.7,576.9 59.8,584.3 59.9,574.8 60.1,588.5 60.2,580.7 60.3,578.9 60.5,583.9 60.6,587.7 60.8,585.3 60.9,581.8 61.0,585.5 61.2,584.6 61.3,587.0 61.4,579.8 61.6,578.6 61.7,583.7 61.8,584.8 62.0,571.2 62.1,583.0 62.3,586.8 62.4,589.0 62.5,586.6 62.7,577.8 62.8,586.8 62.9,571.7 63.1,585.0 63.2,585.8 63.3,580.9 63.5,586.0 63.6,584.0 63.8,588.6 63.9,563.1 64.0,587.8 64.2,584.8 64.3,587.7 64.4,591.9 64.6,584.2 64.7,586.3 64.9,586.7 65.0,587.8 65.1,593.2 65.3,568.6 65.4,587.6 65.5,584.4 65.7,581.7 65.8,582.6 65.9,585.7 66.1,586.4 66.2,585.5 66.4,583.6 66.5,584.7 66.6,571.4 66.8,585.2 66.9,585.5 67.0,584.5 67.2,586.1 67.3,582.4 67.4,586.2 67.6,584.0 67.7,586.8 67.9,588.8 68.0,590.0 68.1,571.8 68.3,585.4 68.4,583.1 68.5,587.4 68.7,588.8 68.8,588.8 68.9,583.1 69.1,587.0 69.2,588.9 69.4,585.0 69.5,591.6 69.6,587.1 69.8,587.6 69.9,587.9 70.0,591.2 70.2,584.4 70.3,582.2 70.4,591.9 70.6,587.3 70.7,556.9 70.9,580.5 71.0,589.1 71.1,590.9 71.3,587.9 71.4,581.5 71.5,587.7 71.7,584.0 71.8,582.3 71.9,594.9 72.1,595.0 72.2,585.2 72.4,585.7 72.5,592.6 72.6,586.6 72.8,581.5 72.9,587.6 73.0,590.9 73.2,589.8 73.3,591.2 73.5,588.3 73.6,589.2 73.7,583.1 73.9,586.5 74.0,593.5 74.1,583.1 74.3,583.9 74.4,587.6 74.5,585.1 74.7,584.4 74.8,586.3 75.0,591.6 75.1,586.1 75.2,593.0 75.4,584.5 75.5,593.5 75.6,595.4 75.8,586.9 75.9,589.2 76.0,588.3 76.2,587.3 76.3,588.8 76.5,591.5 76.6,588.0 76.7,587.6 76.9,587.2 77.0,582.4 77.1,591.1 77.3,588.5 77.4,587.0 77.5,590.2 77.7,583.4 77.8,578.1 78.0,585.4 78.1,589.7 78.2,586.9 78.4,591.2 78.5,587.4 78.6,591.0 78.8,591.6 78.9,588.5 79.0,588.7 79.2,584.2 79.3,594.1 79.5,587.3 79.6,583.8 79.7,584.6 79.9,590.2 80.0,591.2 80.1,590.6 80.3,588.0 80.4,588.4 80.5,587.9 80.7,574.0 80.8,592.5 81.0,589.5 81.1,584.9 81.2,586.9 81.4,589.5 81.5,588.2 81.6,574.5 81.8,587.6 81.9,589.3 82.0,584.8 82.2,591.7 82.3,580.5 82.5,586.3 82.6,586.9 82.7,588.2 82.9,590.6 83.0,593.5 83.1,590.1 83.3,591.5 83.4,587.4 83.6,590.1 83.7,587.9 83.8,594.8 84.0,586.6 84.1,592.5 84.2,594.8 84.4,594.2 84.5,591.8 84.6,583.1 84.8,587.6 84.9,593.7 85.1,589.7 85.2,590.3 85.3,595.0 85.5,593.2 85.6,596.6 85.7,592.8 85.9,598.6 86.0,592.7 86.1,593.1 86.3,592.7 86.4,592.8 86.6,586.5 86.7,591.4 86.8,589.5 87.0,587.9 87.1,587.5 87.2,588.2 87.4,592.2 87.5,593.9 87.6,592.9 87.8,592.0 87.9,590.5 88.1,590.8 88.2,587.1 88.3,585.3 88.5,584.9 88.6,587.4 88.7,592.3 88.9,588.0 89.0,600.0 89.1,586.4 89.3,589.5 89.4,589.6 89.6,596.3 89.7,582.9 89.8,591.8 90.0,591.5 90.1,587.5 90.2,591.7 90.4,593.8 90.5,589.1 90.6,594.4 90.8,588.9 90.9,590.8 91.1,587.7 91.2,589.6 91.3,587.4 91.5,590.4 91.6,585.1 91.7,593.5 91.9,585.6 92.0,589.3 92.2,589.0 92.3,593.9 92.4,589.8 92.6,589.5 92.7,594.3 92.8,595.4 93.0,594.2 93.1,587.1 93.2,591.3 93.4,588.9 93.5,591.0 93.7,591.5 93.8,591.2 93.9,593.3 94.1,588.1 94.2,591.5 94.3,591.3 94.5,596.5 94.6,591.1 94.7,594.3 94.9,593.8 95.0,588.9 95.2,595.7 95.3,589.3 95.4,590.3 95.6,588.6 95.7,594.0 95.8,591.4 96.0,591.5 96.1,596.0 96.2,599.3 96.4,598.6 96.5,590.6 96.7,592.2 96.8,596.8 96.9,594.6 97.1,593.9 97.2,593.8 97.3,592.8 97.5,585.7 97.6,595.2 97.7,592.3 97.9,595.2 98.0,594.8 98.2,595.7 98.3,593.6 98.4,594.7 98.6,591.8 98.7,592.3 98.8,595.8 99.0,586.9 99.1,596.8 99.2,584.5 99.4,586.2 99.5,595.4 99.7,588.9 99.8,588.7 99.9,592.1 100.1,599.1 100.2,588.7 100.3,593.0 100.5,595.1 100.6,589.3 100.8,595.7 100.9,590.0 101.0,595.2 101.2,591.7 101.3,596.9 101.4,594.7 101.6,596.4 101.7,595.7 101.8,592.9 102.0,594.0 102.1,592.9 102.3,589.4 102.4,593.9 102.5,599.5 102.7,594.5 102.8,593.3 102.9,590.3 103.1,590.3 103.2,590.6 103.3,594.3 103.5,591.6 103.6,598.2 103.8,589.5 103.9,592.3 104.0,592.0 104.2,594.9 104.3,593.5 104.4,595.8 104.6,591.9 104.7,597.9 104.8,590.6 105.0,592.0 105.1,587.3 105.3,593.9 105.4,594.1 105.5,593.2 105.7,593.7 105.8,594.1 105.9,597.3 106.1,597.4 106.2,595.6 106.3,594.8 106.5,597.6 106.6,597.6 106.8,594.8 106.9,588.6 107.0,594.5 107.2,591.8 107.3,590.8 107.4,591.5 107.6,595.3 107.7,595.3 107.8,599.9 108.0,596.2 108.1,592.5 108.3,597.5 108.4,589.7 108.5,589.4 108.7,595.2 108.8,591.1 108.9,598.5 109.1,597.4 109.2,595.2 109.3,594.0 109.5,594.6 109.6,596.8 109.8,587.8 109.9,593.1 110.0,593.2 110.2,591.9 110.3,593.5 110.4,594.8 110.6,595.9 110.7,599.3 110.9,589.4 111.0,597.1 111.1,599.4 111.3,596.7 111.4,599.2 111.5,587.8 111.7,578.7 111.8,589.7 111.9,589.5 112.1,592.4 112.2,592.4 112.4,596.5 112.5,594.5 112.6,596.1 112.8,594.1 112.9,596.4 113.0,590.2 113.2,591.8 113.3,594.6 113.4,599.6 113.6,592.1 113.7,591.4 113.9,594.5 114.0,598.3 114.1,592.9 114.3,584.2 114.4,600.4 114.5,592.5 114.7,600.1 114.8,594.0 114.9,588.7 115.1,594.0 115.2,592.7 115.4,595.3 115.5,594.3 115.6,586.8 115.8,590.0 115.9,595.2 116.0,595.4 116.2,594.2 116.3,587.2 116.4,593.6 116.6,590.7 116.7,595.4 116.9,598.3 117.0,590.0 117.1,594.4 117.3,596.7 117.4,596.4 117.5,596.3 117.7,596.1 117.8,599.1 117.9,590.4 118.1,593.0 118.2,591.1 118.4,595.3 118.5,593.1 118.6,593.6 118.8,590.4 118.9,591.6 119.0,593.0 119.2,596.2 119.3,598.0 119.5,596.7 119.6,596.1 119.7,588.9 119.9,598.0 120.0,588.8 120.1,593.3 120.3,600.5 120.4,597.6 120.5,598.4 120.7,593.3 120.8,586.0 121.0,597.2 121.1,592.1 121.2,595.0 121.4,590.4 121.5,589.7 121.6,593.1 121.8,591.8 121.9,594.0 122.0,595.2 122.2,597.7 122.3,593.0 122.5,594.2 122.6,595.2 122.7,594.2 122.9,594.5 123.0,597.2 123.1,595.6 123.3,590.3 123.4,594.6 123.5,589.5 123.7,597.5 123.8,598.2 124.0,586.3 124.1,591.4 124.2,595.9 124.4,591.9 124.5,590.9 124.6,584.4 124.8,594.2 124.9,594.0 125.0,599.0 125.2,593.7 125.3,592.9 125.5,589.3 125.6,597.8 125.7,596.4 125.9,596.9 126.0,590.9 126.1,601.7 126.3,597.1 126.4,587.2 126.5,591.6 126.7,597.9 126.8,593.8 127.0,591.0 127.1,591.9 127.2,594.3 127.4,596.1 127.5,591.0 127.6,593.6 127.8,591.0 127.9,592.3 128.1,595.0 128.2,589.0 128.3,595.2 128.5,592.2 128.6,595.6 128.7,594.3 128.9,588.4 129.0,595.7 129.1,592.9 129.3,589.5 129.4,587.8 129.6,589.2 129.7,594.3 129.8,589.1 130.0,592.4 130.1,588.1 130.2,597.7 130.4,589.1 130.5,595.7 130.6,590.2 130.8,595.3 130.9,591.0 131.1,594.7 131.2,595.4 131.3,596.9 131.5,594.6 131.6,593.8 131.7,601.0 131.9,597.7 132.0,596.2 132.1,594.6 132.3,593.3 132.4,596.6 132.6,598.8 132.7,593.0 132.8,595.1 133.0,591.2 133.1,595.7 133.2,592.0 133.4,596.9 133.5,593.2 133.6,593.8 133.8,592.7 133.9,597.0 134.1,594.5 134.2,596.8 134.3,594.7 134.5,592.2 134.6,584.8 134.7,594.1 134.9,592.0 135.0,593.9 135.1,590.7 135.3,592.8 135.4,591.1 135.6,593.2 135.7,586.9 135.8,590.1 136.0,599.8 136.1,593.6 136.2,594.3 136.4,601.5 136.5,597.3 136.6,596.1 136.8,597.0 136.9,594.3 137.1,600.3 137.2,592.4 137.3,592.4 137.5,593.7 137.6,595.9 137.7,594.9 137.9,596.4 138.0,591.3 138.2,593.4 138.3,588.8 138.4,596.2 138.6,590.5 138.7,596.9 138.8,595.7 139.0,598.4 139.1,593.6 139.2,595.4 139.4,593.3 139.5,590.6 139.7,595.5 139.8,594.2 139.9,592.6 140.1,595.6 140.2,597.2 140.3,594.4 140.5,593.9 140.6,593.1 140.7,593.0 140.9,597.7 141.0,594.3 141.2,591.8 141.3,597.2 141.4,594.6 141.6,597.7 141.7,595.3 141.8,590.4 142.0,595.3 142.1,598.9 142.2,594.8 142.4,595.2 142.5,592.4 142.7,600.2 142.8,598.8 142.9,596.2 143.1,600.9 143.2,592.5 143.3,595.6 143.5,598.7 143.6,600.7 143.7,598.2 143.9,593.6 144.0,594.3 144.2,593.3 144.3,594.3 144.4,602.6 144.6,595.3 144.7,602.0 144.8,597.8 145.0,597.5 145.1,598.0 145.2,594.8 145.4,598.9 145.5,590.9 145.7,594.5 145.8,592.7 145.9,594.0 146.1,593.6 146.2,596.6 146.3,590.3 146.5,599.8 146.6,589.1 146.8,596.5 146.9,597.2 147.0,595.6 147.2,598.9 147.3,593.9 147.4,594.2 147.6,596.3 147.7,594.4 147.8,599.9 148.0,602.4 148.1,598.5 148.3,597.5 148.4,589.0 148.5,597.5 148.7,593.5 148.8,594.1 148.9,590.1 149.1,596.4 149.2,594.7 149.3,597.3 149.5,599.4 149.6,599.8 149.8,599.1 149.9,592.2 150.0,595.8 150.2,597.1 150.3,596.6 150.4,598.4 150.6,596.7 150.7,596.7 150.8,594.6 151.0,593.7 151.1,601.7 151.3,595.8 151.4,592.3 151.5,599.7 151.7,597.3 151.8,596.0 151.9,593.1 152.1,594.6 152.2,597.2 152.3,594.9 152.5,593.2 152.6,595.2 152.8,590.6 152.9,595.1 153.0,599.7 153.2,598.9 153.3,596.8 153.4,597.0 153.6,594.4 153.7,595.3 153.8,591.0 154.0,593.8 154.1,591.7 154.3,598.7 154.4,597.7 154.5,594.2 154.7,596.0 154.8,594.3 154.9,595.5 155.1,598.2 155.2,590.9 155.3,592.7 155.5,601.1 155.6,598.1 155.8,596.1 155.9,594.1 156.0,596.4 156.2,600.4 156.3,593.6 156.4,596.8 156.6,592.4 156.7,595.2 156.9,593.0 157.0,593.5 157.1,593.3 157.3,597.7 157.4,592.8 157.5,595.4 157.7,599.9 157.8,597.3 157.9,597.1 158.1,594.5 158.2,593.9 158.4,599.5 158.5,593.7 158.6,596.2 158.8,599.2 158.9,593.3 159.0,598.3 159.2,599.6 159.3,593.5 159.4,593.1 159.6,597.9 159.7,592.6 159.9,592.7 160.0,597.4 160.1,589.6 160.3,596.0 160.4,595.1 160.5,603.2 160.7,593.8 160.8,597.7 160.9,594.4 161.1,601.1 161.2,592.1 161.4,591.2 161.5,589.8 161.6,604.9 161.8,593.8 161.9,594.6 162.0,605.1 162.2,597.9 162.3,595.9 162.4,591.2 162.6,598.3 162.7,595.0 162.9,595.9 163.0,594.6 163.1,592.5 163.3,589.4 163.4,592.7 163.5,600.0 163.7,592.3 163.8,598.1 163.9,596.6 164.1,592.3 164.2,595.5 164.4,594.0 164.5,593.3 164.6,593.9 164.8,597.5 164.9,598.8 165.0,593.7 165.2,593.5 165.3,594.7 165.5,596.5 165.6,593.2 165.7,596.0 165.9,600.2 166.0,595.0 166.1,594.3 166.3,593.5 166.4,598.7 166.5,598.3 166.7,594.9 166.8,597.4 167.0,596.2 167.1,593.1 167.2,594.8 167.4,590.3 167.5,595.1 167.6,590.7 167.8,592.7 167.9,588.1 168.0,596.0 168.2,596.3 168.3,592.0 168.5,597.7 168.6,597.5 168.7,595.3 168.9,594.9 169.0,600.4 169.1,595.3 169.3,597.1 169.4,596.2 169.5,595.6 169.7,596.7 169.8,592.8 170.0,594.7 170.1,596.8 170.2,596.0 170.4,593.0 170.5,593.8 170.6,592.3 170.8,596.7 170.9,595.8 171.0,590.0 171.2,596.4 171.3,591.1 171.5,593.7 171.6,597.7 171.7,600.7 171.9,594.4 172.0,598.6 172.1,598.6 172.3,601.8 172.4,592.7 172.5,596.1 172.7,596.4 172.8,595.2 173.0,595.7 173.1,596.2 173.2,594.9 173.4,597.4 173.5,604.5 173.6,594.3 173.8,595.3 173.9,596.5 174.1,591.7 174.2,601.0 174.3,605.6 174.5,592.0 174.6,595.4 174.7,601.8 174.9,598.0 175.0,594.8 175.1,600.5 175.3,595.0 175.4,590.2 175.6,592.5 175.7,596.9 175.8,595.8 176.0,599.8 176.1,596.4 176.2,597.9 176.4,599.9 176.5,601.0 176.6,590.9 176.8,596.6 176.9,600.1 177.1,598.2 177.2,592.3 177.3,591.9 177.5,598.8 177.6,596.3 177.7,594.2 177.9,598.0 178.0,600.6 178.1,600.0 178.3,596.9 178.4,599.4 178.6,601.0 178.7,597.7 178.8,594.1 179.0,594.9 179.1,597.7 179.2,591.1 179.4,599.5 179.5,597.3 179.6,601.3 179.8,594.6 179.9,597.4 180.1,602.3 180.2,599.6 180.3,591.5 180.5,594.9 180.6,596.8 180.7,594.4 180.9,602.1 181.0,599.7 181.1,601.2 181.3,599.7 181.4,598.3 181.6,595.5 181.7,594.1 181.8,594.1 182.0,588.9 182.1,598.7 182.2,597.3 182.4,595.6 182.5,599.8 182.7,598.1 182.8,596.0 182.9,600.0 183.1,595.8 183.2,593.4 183.3,600.7 183.5,604.3 183.6,597.0 183.7,600.5 183.9,596.7 184.0,598.7 184.2,596.3 184.3,593.8 184.4,594.7 184.6,598.4 184.7,600.9 184.8,605.0 185.0,604.0 185.1,599.8 185.2,597.0 185.4,599.4 185.5,599.2 185.7,602.3 185.8,602.5 185.9,602.7 186.1,595.5 186.2,603.5 186.3,595.3 186.5,600.2 186.6,595.8 186.7,596.7 186.9,595.1 187.0,593.8 187.2,599.9 187.3,600.5 187.4,598.9 187.6,599.9 187.7,595.5 187.8,597.9 188.0,597.5 188.1,596.3 188.2,599.0 188.4,594.2 188.5,603.3 188.7,596.9 188.8,596.1 188.9,600.0 189.1,599.8 189.2,594.8 189.3,598.6 189.5,603.6 189.6,601.8 189.7,594.5 189.9,600.4 190.0,593.6 190.2,593.4 190.3,598.3 190.4,596.0 190.6,600.3 190.7,599.0 190.8,599.9 191.0,595.9 191.1,601.7 191.2,598.2 191.4,597.6 191.5,596.2 191.7,604.4 191.8,603.3 191.9,600.5 192.1,598.5 192.2,597.4 192.3,597.2 192.5,591.6 192.6,595.8 192.8,596.0 192.9,599.4 193.0,595.4 193.2,595.7 193.3,595.8 193.4,598.3 193.6,596.0 193.7,593.2 193.8,600.4 194.0,604.6 194.1,595.4 194.3,595.7 194.4,598.7 194.5,599.3 194.7,589.4 194.8,599.4 194.9,601.8 195.1,599.5 195.2,596.5 195.3,599.9 195.5,599.2 195.6,597.1 195.8,599.4 195.9,597.7 196.0,598.2 196.2,601.4 196.3,597.9 196.4,601.7 196.6,595.2 196.7,600.9 196.8,598.8 197.0,603.7 197.1,599.4 197.3,601.9 197.4,593.4 197.5,598.4 197.7,596.4 197.8,603.4 197.9,601.8 198.1,598.5 198.2,602.1 198.3,594.4 198.5,599.2 198.6,597.4 198.8,597.0 198.9,598.3 199.0,595.5 199.2,599.9 199.3,596.7 199.4,594.1 199.6,597.2 199.7,591.1 199.8,598.8 200.0,597.6 200.1,595.7 200.3,598.5 200.4,602.9 200.5,597.2 200.7,598.2 200.8,596.3 200.9,597.6 201.1,592.9 201.2,601.4 201.4,600.7 201.5,595.7 201.6,600.8 201.8,596.6 201.9,597.7 202.0,603.7 202.2,595.6 202.3,593.4 202.4,597.0 202.6,601.9 202.7,595.2 202.9,600.8 203.0,597.9 203.1,596.3 203.3,599.9 203.4,602.7 203.5,598.0 203.7,597.7 203.8,600.1 203.9,599.9 204.1,595.2 204.2,597.8 204.4,598.9 204.5,599.3 204.6,597.0 204.8,597.2 204.9,598.0 205.0,601.7 205.2,598.6 205.3,599.4 205.4,597.3 205.6,593.9 205.7,594.6 205.9,595.5 206.0,597.1 206.1,598.4 206.3,596.4 206.4,592.5 206.5,598.5 206.7,600.0 206.8,597.6 206.9,597.6 207.1,591.8 207.2,595.7 207.4,591.1 207.5,595.0 207.6,598.8 207.8,594.3 207.9,595.0 208.0,588.6 208.2,600.6 208.3,597.6 208.4,597.7 208.6,596.4 208.7,595.2 208.9,600.3 209.0,599.5 209.1,596.4 209.3,594.4 209.4,600.7 209.5,602.0 209.7,593.8 209.8,594.7 209.9,594.0 210.1,600.3 210.2,597.9 210.4,596.7 210.5,596.1 210.6,597.8 210.8,597.6 210.9,594.4 211.0,598.8 211.2,599.2 211.3,598.9 211.5,599.1 211.6,597.2 211.7,598.3 211.9,599.0 212.0,593.4 212.1,596.8 212.3,598.8 212.4,594.0 212.5,599.5 212.7,597.8 212.8,598.1 213.0,599.6 213.1,599.1 213.2,597.7 213.4,602.3 213.5,599.2 213.6,597.3 213.8,597.2 213.9,597.2 214.0,591.1 214.2,596.1 214.3,598.6 214.5,598.6 214.6,598.2 214.7,596.9 214.9,599.2 215.0,593.8 215.1,601.6 215.3,596.5 215.4,596.9 215.5,601.8 215.7,596.6 215.8,596.8 216.0,600.4 216.1,591.6 216.2,596.4 216.4,599.6 216.5,600.0 216.6,600.9 216.8,597.9 216.9,598.5 217.0,602.9 217.2,601.8 217.3,600.8 217.5,599.9 217.6,599.8 217.7,600.7 217.9,596.8 218.0,595.9 218.1,598.5 218.3,605.3 218.4,599.2 218.5,597.1 218.7,599.0 218.8,598.0 219.0,598.5 219.1,603.3 219.2,606.3 219.4,597.0 219.5,600.4 219.6,597.6 219.8,599.8 219.9,599.4 220.1,594.8 220.2,602.5 220.3,598.9 220.5,602.2 220.6,598.7 220.7,597.5 220.9,597.0 221.0,598.5 221.1,603.1 221.3,598.2 221.4,596.3 221.6,596.0 221.7,592.7 221.8,597.3 222.0,602.0 222.1,600.6 222.2,598.8 222.4,595.9 222.5,602.4 222.6,596.4 222.8,597.1 222.9,601.7 223.1,597.3 223.2,601.4 223.3,599.1 223.5,600.0 223.6,598.4 223.7,602.6 223.9,597.5 224.0,605.5 224.1,600.3 224.3,600.7 224.4,594.4 224.6,597.5 224.7,600.5 224.8,601.7 225.0,598.9 225.1,600.9 225.2,592.4 225.4,607.2 225.5,598.8 225.6,606.3 225.8,595.9 225.9,601.3 226.1,594.2 226.2,600.5 226.3,595.7 226.5,598.3 226.6,595.4 226.7,598.8 226.9,607.7 227.0,601.0 227.1,603.5 227.3,596.1 227.4,597.3 227.6,598.8 227.7,597.5 227.8,598.2 228.0,600.5 228.1,589.7 228.2,598.1 228.4,599.3 228.5,603.1 228.7,600.6 228.8,598.7 228.9,599.3 229.1,600.1 229.2,598.9 229.3,602.0 229.5,598.7 229.6,603.3 229.7,601.2 229.9,600.9 230.0,596.1 230.2,597.2 230.3,598.4 230.4,602.0 230.6,599.8 230.7,596.3 230.8,594.9 231.0,603.0 231.1,599.9 231.2,598.3 231.4,597.6 231.5,598.6 231.7,596.7 231.8,602.9 231.9,594.0 232.1,602.0 232.2,598.5 232.3,597.1 232.5,595.2 232.6,596.0 232.7,596.1 232.9,594.9 233.0,599.1 233.2,596.4 233.3,594.1 233.4,600.9 233.6,602.8 233.7,595.4 233.8,594.5 234.0,595.0 234.1,599.7 234.2,597.9 234.4,590.7 234.5,595.5 234.7,604.3 234.8,600.3 234.9,599.4 235.1,597.7 235.2,598.4 235.3,599.6 235.5,597.8 235.6,606.3 235.7,589.5 235.9,596.2 236.0,596.0 236.2,600.6 236.3,597.4 236.4,592.6 236.6,593.3 236.7,598.5 236.8,602.4 237.0,598.2 237.1,599.6 237.2,596.2 237.4,602.5 237.5,599.2 237.7,597.9 237.8,600.1 237.9,595.5 238.1,602.0 238.2,602.3 238.3,599.7 238.5,596.2 238.6,599.5 238.8,600.4 238.9,596.2 239.0,598.0 239.2,600.2 239.3,598.2 239.4,599.3 239.6,596.8 239.7,598.2 239.8,601.0 240.0,600.0 240.1,599.8 240.3,597.5 240.4,597.5 240.5,601.1 240.7,599.1 240.8,597.6 240.9,595.3 241.1,597.8 241.2,592.7 241.3,598.5 241.5,596.4 241.6,599.5 241.8,601.5 241.9,598.2 242.0,597.1 242.2,597.6 242.3,598.1 242.4,599.5 242.6,601.0 242.7,599.4 242.8,597.1 243.0,595.6 243.1,608.3 243.3,596.7 243.4,595.3 243.5,594.7 243.7,597.3 243.8,596.5 243.9,599.8 244.1,598.7 244.2,596.9 244.3,601.7 244.5,600.8 244.6,597.9 244.8,602.4 244.9,598.3 245.0,602.9 245.2,597.9 245.3,598.4 245.4,600.1 245.6,601.3 245.7,600.0 245.8,605.1 246.0,599.6 246.1,591.8 246.3,594.8 246.4,600.0 246.5,599.0 246.7,594.3 246.8,593.2 246.9,599.9 247.1,595.3 247.2,594.9 247.4,596.9 247.5,601.4 247.6,601.2 247.8,596.7 247.9,591.4 248.0,599.0 248.2,593.7 248.3,592.7 248.4,602.2 248.6,600.2 248.7,593.9 248.9,595.5 249.0,596.8 249.1,598.4 249.3,596.5 249.4,600.3 249.5,590.9 249.7,601.9 249.8,603.8 249.9,598.0 250.1,594.1 250.2,599.9 250.4,598.6 250.5,601.5 250.6,598.6 250.8,601.4 250.9,601.4 251.0,602.8 251.2,600.1 251.3,592.9 251.4,598.7 251.6,598.0 251.7,591.9 251.9,600.5 252.0,601.6 252.1,597.1 252.3,602.4 252.4,597.7 252.5,595.3 252.7,602.0 252.8,594.5 252.9,593.7 253.1,602.0 253.2,600.9 253.4,598.2 253.5,599.9 253.6,601.5 253.8,594.2 253.9,600.8 254.0,598.1 254.2,600.3 254.3,599.8 254.4,603.3 254.6,596.4 254.7,600.5 254.9,595.4 255.0,602.8 255.1,600.8 255.3,597.9 255.4,599.0 255.5,601.4 255.7,599.8 255.8,603.3 256.0,599.3 256.1,607.5 256.2,599.0 256.4,595.5 256.5,596.9 256.6,597.1 256.8,600.9 256.9,598.2 257.0,600.9 257.2,600.0 257.3,600.1 257.5,609.9 257.6,597.1 257.7,598.5 257.9,597.4 258.0,602.8 258.1,597.8 258.3,598.5 258.4,606.6 258.5,605.2 258.7,599.8 258.8,602.0 259.0,600.0 259.1,601.9 259.2,595.5 259.4,605.7 259.5,604.1 259.6,603.0 259.8,604.2 259.9,601.8 260.0,600.2 260.2,604.2 260.3,599.0 260.5,596.2 260.6,596.9 260.7,594.2 260.9,596.8 261.0,600.3 261.1,594.9 261.3,598.1 261.4,594.6 261.5,600.8 261.7,606.6 261.8,603.8 262.0,599.8 262.1,598.7 262.2,600.9 262.4,597.3 262.5,603.8 262.6,602.5 262.8,597.4 262.9,600.2 263.0,600.1 263.2,596.2 263.3,597.1 263.5,602.8 263.6,599.9 263.7,605.6 263.9,600.5 264.0,599.3 264.1,605.7 264.3,595.8 264.4,594.5 264.6,599.1 264.7,597.8 264.8,596.0 265.0,601.0 265.1,597.3 265.2,599.3 265.4,605.0 265.5,603.1 265.6,602.1 265.8,597.2 265.9,600.1 266.1,597.4 266.2,601.8 266.3,604.2 266.5,594.1 266.6,592.1 266.7,599.1 266.9,600.9 267.0,596.7 267.1,603.6 267.3,600.8 267.4,604.5 267.6,598.7 267.7,599.4 267.8,601.4 268.0,602.1 268.1,604.7 268.2,602.6 268.4,596.4 268.5,601.1 268.6,596.3 268.8,602.6 268.9,600.3 269.1,601.4 269.2,600.8 269.3,597.7 269.5,606.1 269.6,597.7 269.7,597.8 269.9,599.9 270.0,599.7 270.1,600.6 270.3,597.8 270.4,599.7 270.6,602.4 270.7,599.4 270.8,596.9 271.0,598.7 271.1,599.7 271.2,599.1 271.4,601.2 271.5,601.1 271.6,605.4 271.8,600.3 271.9,596.8 272.1,600.9 272.2,602.4 272.3,597.0 272.5,599.2 272.6,599.3 272.7,598.3 272.9,590.3 273.0,595.8 273.1,602.2 273.3,594.5 273.4,599.5 273.6,602.0 273.7,599.1 273.8,596.1 274.0,603.9 274.1,595.7 274.2,600.0 274.4,593.7 274.5,597.6 274.7,599.9 274.8,595.9 274.9,595.8 275.1,600.7 275.2,598.9 275.3,601.1 275.5,596.9 275.6,603.8 275.7,600.1 275.9,605.9 276.0,597.8 276.2,606.2 276.3,602.7 276.4,598.8 276.6,600.6 276.7,600.9 276.8,602.4 277.0,600.9 277.1,604.8 277.2,598.6 277.4,597.1 277.5,597.2 277.7,599.6 277.8,595.9 277.9,598.1 278.1,596.6 278.2,598.3 278.3,599.4 278.5,601.8 278.6,607.3 278.7,597.6 278.9,599.8 279.0,593.6 279.2,605.4 279.3,597.0 279.4,602.3 279.6,599.5 279.7,602.1 279.8,598.5 280.0,599.6 280.1,596.9 280.2,591.6 280.4,598.1 280.5,595.7 280.7,597.9 280.8,599.9 280.9,595.8 281.1,599.8 281.2,598.3 281.3,600.4 281.5,601.5 281.6,608.4 281.7,597.4 281.9,602.9 282.0,597.3 282.2,594.1 282.3,603.4 282.4,596.9 282.6,599.8 282.7,598.1 282.8,603.0 283.0,599.4 283.1,599.0 283.3,595.2 283.4,593.1 283.5,598.5 283.7,600.6 283.8,592.9 283.9,599.8 284.1,599.6 284.2,599.2 284.3,598.1 284.5,597.4 284.6,601.2 284.8,599.8 284.9,593.9 285.0,594.7 285.2,591.4 285.3,598.7 285.4,600.2 285.6,596.4 285.7,601.0 285.8,599.1 286.0,600.8 286.1,601.3 286.3,599.4 286.4,599.5 286.5,601.2 286.7,599.7 286.8,599.3 286.9,600.9 287.1,601.4 287.2,599.9 287.3,597.4 287.5,596.2 287.6,599.0 287.8,600.3 287.9,599.6 288.0,593.8 288.2,596.8 288.3,602.3 288.4,599.7 288.6,601.1 288.7,600.6 288.8,604.5 289.0,599.4 289.1,603.6 289.3,601.3 289.4,595.0 289.5,596.6 289.7,602.1 289.8,602.6 289.9,602.2 290.1,605.1 290.2,602.5 290.3,600.4 290.5,602.7 290.6,597.3 290.8,599.7 290.9,601.1 291.0,594.4 291.2,597.5 291.3,599.4 291.4,590.4 291.6,595.7 291.7,597.6 291.9,598.6 292.0,600.9 292.1,603.9 292.3,594.0 292.4,595.1 292.5,603.4 292.7,591.9 292.8,604.5 292.9,596.4 293.1,599.8 293.2,600.5 293.4,595.9 293.5,599.6 293.6,600.5 293.8,597.0 293.9,600.6 294.0,597.1 294.2,599.7 294.3,597.3 294.4,597.9 294.6,597.4 294.7,602.8 294.9,594.1 295.0,600.2 295.1,594.5 295.3,601.6 295.4,600.6 295.5,600.6 295.7,596.4 295.8,601.1 295.9,598.6 296.1,604.5 296.2,601.3 296.4,599.2 296.5,600.2 296.6,605.5 296.8,598.4 296.9,602.8 297.0,589.7 297.2,600.5 297.3,593.1 297.4,597.9 297.6,598.5 297.7,601.4 297.9,600.3 298.0,598.6 298.1,605.8 298.3,597.0 298.4,603.5 298.5,600.8 298.7,608.2 298.8,598.6 298.9,597.7 299.1,599.1 299.2,598.9 299.4,601.0 299.5,599.4 299.6,596.2 299.8,601.1 299.9,598.3 300.0,597.6 300.2,600.5 300.3,599.0 300.4,599.1 300.6,601.2 300.7,592.3 300.9,593.9 301.0,594.5 301.1,596.4 301.3,605.7 301.4,598.8 301.5,596.4 301.7,597.1 301.8,594.5 302.0,598.7 302.1,603.1 302.2,602.6 302.4,600.1 302.5,598.8 302.6,594.5 302.8,598.3 302.9,596.1 303.0,602.9 303.2,602.8 303.3,600.7 303.5,594.0 303.6,603.3 303.7,604.0 303.9,599.4 304.0,595.6 304.1,604.1 304.3,599.9 304.4,603.2 304.5,594.7 304.7,597.0 304.8,598.2 305.0,599.2 305.1,599.7 305.2,598.6 305.4,600.9 305.5,601.6" fill="none" stroke="#11ee11" stroke-width="0.5" stroke-linejoin="bevel"/>
<circle cx="32.5" cy="470.8" r="1.25" fill="#000"/>
<circle cx="39.3" cy="563.7" r="1.25" fill="#000"/>
<circle cx="46.1" cy="578.1" r="1.25" fill="#000"/>
<circle cx="53.0" cy="583.4" r="1.25" fill="#000"/>
<circle cx="59.8" cy="579.4" r="1.25" fill="#000"/>
<circle cx="66.6" cy="588.5" r="1.25" fill="#000"/>
<circle cx="73.5" cy="587.0" r="1.25" fill="#000"/>
<circle cx="80.3" cy="588.2" r="1.25" fill="#000"/>
<circle cx="87.1" cy="589.5" r="1.25" fill="#000"/>
<circle cx="93.9" cy="591.0" r="1.25" fill="#000"/>
<circle cx="100.8" cy="593.3" r="1.25" fill="#000"/>
<circle cx="107.6" cy="592.8" r="1.25" fill="#000"/>
<circle cx="114.4" cy="593.8" r="1.25" fill="#000"/>
<circle cx="121.2" cy="593.6" r="1.25" fill="#000"/>
<circle cx="128.1" cy="592.2" r="1.25" fill="#000"/>
<circle cx="134.9" cy="593.1" r="1.25" fill="#000"/>
<circle cx="141.7" cy="595.3" r="1.25" fill="#000"/>
<circle cx="148.5" cy="596.5" r="1.25" fill="#000"/>
<circle cx="155.3" cy="595.8" r="1.25" fill="#000"/>
<circle cx="162.2" cy="593.9" r="1.25" fill="#000"/>
<circle cx="169.0" cy="596.2" r="1.25" fill="#000"/>
<circle cx="175.8" cy="595.8" r="1.25" fill="#000"/>
<circle cx="182.7" cy="597.7" r="1.25" fill="#000"/>
<circle cx="189.5" cy="595.8" r="1.25" fill="#000"/>
<circle cx="196.3" cy="598.2" r="1.25" fill="#000"/>
<circle cx="203.1" cy="596.8" r="1.25" fill="#000"/>
<circle cx="209.9" cy="594.9" r="1.25" fill="#000"/>
<circle cx="216.8" cy="599.0" r="1.25" fill="#000"/>
<circle cx="223.6" cy="598.2" r="1.25" fill="#000"/>
<circle cx="230.4" cy="597.5" r="1.25" fill="#000"/>
<circle cx="237.2" cy="597.7" r="1.25" fill="#000"/>
<circle cx="244.1" cy="598.5" r="1.25" fill="#000"/>
<circle cx="250.9" cy="595.8" r="1.25" fill="#000"/>
<circle cx="257.7" cy="600.1" r="1.25" fill="#000"/>
<circle cx="264.6" cy="600.1" r="1.25" fill="#000"/>
<circle cx="271.4" cy="598.7" r="1.25" fill="#000"/>
<circle cx="278.2" cy="598.4" r="1.25" fill="#000"/>
<circle cx="285.0" cy="599.4" r="1.25" fill="#000"/>
<circle cx="291.9" cy="597.7" r="1.25" fill="#000"/>
<circle cx="298.7" cy="600.6" r="1.25" fill="#000"/>
<circle cx="305.5" cy="598.2" r="1.25" fill="#000"/>
</g>
<path d="M32.5,611.5h4" stroke="#505050"/>
<text x="28.6" y="614.8" font-size="12" text-anchor="end" >0</text>
<path d="M32.5,572.5h2" stroke="#505050"/>
<path d="M32.5,533.5h4" stroke="#505050"/>
<text x="28.6" y="536.8" font-size="12" text-anchor="end" >1</text>
<path d="M32.5,494.5h2" stroke="#505050"/>
<path d="M32.5,455.5h4" stroke="#505050"/>
<text x="28.6" y="458.8" font-size="12" text-anchor="end" >2</text>
<path d="M32.5,416.5h2" stroke="#505050"/>
<path d="M32.5,377.5h4" stroke="#505050"/>
<text x="28.6" y="380.8" font-size="12" text-anchor="end" >3</text>
<path d="M32.5,650.5v-3.5" stroke="#505050"/>
<text x="32.5" y="664.0" font-size="12" text-anchor="middle" >0</text>
<path d="M66.6,650.5v-2" stroke="#505050"/>
<path d="M100.8,650.5v-3.5" stroke="#505050"/>
<text x="100.8" y="664.0" font-size="12" text-anchor="middle" >500</text>
<path d="M134.9,650.5v-2" stroke="#505050"/>
<path d="M169.0,650.5v-3.5" stroke="#505050"/>
<text x="169.0" y="664.0" font-size="12" text-anchor="middle" >1000</text>
<path d="M203.1,650.5v-2" stroke="#505050"/>
<path d="M237.2,650.5v-3.5" stroke="#505050"/>
<text x="237.2" y="664.0" font-size="12" text-anchor="middle" >1500</text>
<path d="M271.4,650.5v-2" stroke="#505050"/>
<path d="M305.5,650.5v-3.5" stroke="#505050"/>
<text x="305.5" y="664.0" font-size="12" text-anchor="middle" >2000</text>
<text x="168.8" y="680.2" font-size="12" text-anchor="middle" >Number of iterations</text>
<text x="0" y="0" font-size="12" text-anchor="middle" transform="translate(18,513.5) rotate(-90)">Loss function</text>
<path d="M158,409.5H185" stroke="#eafbea" stroke-width="1.2"/>
<text x="187.8" y="413.3" font-size="12" text-anchor="start" >Training loss</text>
<path d="M158,424.5H185" stroke="#f08080" stroke-width="1"/><circle cx="171.5" cy="424.5" r="1.5" fill="#000"/>
<text x="187.5" y="428.5" font-size="12" text-anchor="start" >Verification loss</text>
<rect x="400.5" y="398.5" width="223" height="214" fill="#fdf7f2"/>
<rect x="400.50" y="398.50" width="44.60" height="42.80" fill="#f1c28a"/>
<rect x="445.10" y="441.30" width="44.60" height="42.80" fill="#f0bf85"/>
<rect x="489.70" y="484.10" width="44.60" height="42.80" fill="#f0c189"/>
<rect x="534.30" y="526.90" width="44.60" height="42.80" fill="#f1c490"/>
<rect x="578.90" y="569.70" width="44.60" height="42.80" fill="#f3cc9e"/>
<text x="422.8" y="424.9" font-size="14" text-anchor="middle" >205</text>
<text x="467.4" y="424.9" font-size="14" text-anchor="middle" >0</text>
<text x="512.0" y="424.9" font-size="14" text-anchor="middle" >0</text>
<text x="556.6" y="424.9" font-size="14" text-anchor="middle" >0</text>
<text x="601.2" y="424.9" font-size="14" text-anchor="middle" >0</text>
<text x="422.8" y="467.7" font-size="14" text-anchor="middle" >3</text>
<text x="467.4" y="467.7" font-size="14" text-anchor="middle" >215</text>
<text x="512.0" y="467.7" font-size="14" text-anchor="middle" >0</text>
<text x="556.6" y="467.7" font-size="14" text-anchor="middle" >0</text>
<text x="601.2" y="467.7" font-size="14" text-anchor="middle" >0</text>
<text x="422.8" y="510.5" font-size="14" text-anchor="middle" >1</text>
<text x="467.4" y="510.5" font-size="14" text-anchor="middle" >4</text>
<text x="512.0" y="510.5" font-size="14" text-anchor="middle" >207</text>
<text x="556.6" y="510.5" font-size="14" text-anchor="middle" >0</text>
<text x="601.2" y="510.5" font-size="14" text-anchor="middle" >0</text>
<text x="422.8" y="553.3" font-size="14" text-anchor="middle" >0</text>
<text x="467.4" y="553.3" font-size="14" text-anchor="middle" >2</text>
<text x="512.0" y="553.3" font-size="14" text-anchor="middle" >5</text>
<text x="556.6" y="553.3" font-size="14" text-anchor="middle" >194</text>
<text x="601.2" y="553.3" font-size="14" text-anchor="middle" >2</text>
<text x="422.8" y="596.1" font-size="14" text-anchor="middle" >0</text>
<text x="467.4" y="596.1" font-size="14" text-anchor="middle" >3</text>
<text x="512.0" y="596.1" font-size="14" text-anchor="middle" >2</text>
<text x="556.6" y="596.1" font-size="14" text-anchor="middle" >2</text>
<text x="601.2" y="596.1" font-size="14" text-anchor="middle" >165</text>
<rect x="400.5" y="398.5" width="223" height="214" fill="none" stroke="#555" stroke-width="1"/>
<path d="M396.3,419.9H400.5" stroke="#333"/>
<text x="392.8" y="423.6" font-size="12.6" text-anchor="end" >0.0</text>
<path d="M422.8,612.5V616.8" stroke="#333"/>
<text x="423.1" y="629.6" font-size="12.6" text-anchor="middle" >0.0</text>
<path d="M396.3,462.7H400.5" stroke="#333"/>
<text x="392.8" y="466.4" font-size="12.6" text-anchor="end" >0.5</text>
<path d="M467.4,612.5V616.8" stroke="#333"/>
<text x="467.7" y="629.6" font-size="12.6" text-anchor="middle" >0.5</text>
<path d="M396.3,505.5H400.5" stroke="#333"/>
<text x="392.8" y="509.2" font-size="12.6" text-anchor="end" >1.0</text>
<path d="M512.0,612.5V616.8" stroke="#333"/>
<text x="512.3" y="629.6" font-size="12.6" text-anchor="middle" >1.0</text>
<path d="M396.3,548.3H400.5" stroke="#333"/>
<text x="392.8" y="552.0" font-size="12.6" text-anchor="end" >1.5</text>
<path d="M556.6,612.5V616.8" stroke="#333"/>
<text x="556.9" y="629.6" font-size="12.6" text-anchor="middle" >1.5</text>
<path d="M396.3,591.1H400.5" stroke="#333"/>
<text x="392.8" y="594.8" font-size="12.6" text-anchor="end" >2.0</text>
<path d="M601.2,612.5V616.8" stroke="#333"/>
<text x="601.5" y="629.6" font-size="12.6" text-anchor="middle" >2.0</text>
<text x="511.8" y="650.5" font-size="12.5" text-anchor="middle" >Prediction class</text>
<text x="0" y="0" font-size="12.5" text-anchor="middle" transform="translate(373,504.8) rotate(-90)">True class</text>
<defs><linearGradient id="cb" x1="0" y1="0" x2="0" y2="1"><stop offset="0" stop-color="#F0BF85"/><stop offset="1" stop-color="#FDF7F2"/></linearGradient></defs>
<rect x="640.5" y="398.5" width="16" height="214" fill="url(#cb)" stroke="#555" stroke-width="1"/>
<path d="M656.5,398.5H660.5" stroke="#555"/>
<text x="665.3" y="402.6" font-size="12" text-anchor="start" >215</text>
<path d="M656.5,434.3H660.5" stroke="#555"/>
<text x="665.3" y="438.4" font-size="12" text-anchor="start" >179</text>
<path d="M656.5,470.2H660.5" stroke="#555"/>
<text x="665.3" y="474.3" font-size="12" text-anchor="start" >143</text>
<path d="M656.5,505.0H660.5" stroke="#555"/>
<text x="665.3" y="509.1" font-size="12" text-anchor="start" >108</text>
<text x="665.3" y="544.9" font-size="12" text-anchor="start" >72</text>
<text x="665.3" y="580.8" font-size="12" text-anchor="start" >36</text>
<path d="M656.5,612.5H660.5" stroke="#999"/>
<text x="665.3" y="616.6" font-size="12" text-anchor="start" >0</text>
</g>
<path d="M161.2,319.0A11 11 0 0 0 161.2,334.2" fill="none" stroke="#000" stroke-width="1.9" stroke-linecap="round"/>
<path d="M174.8,319.0A11 11 0 0 1 174.8,334.2" fill="none" stroke="#000" stroke-width="1.9" stroke-linecap="round"/>
<text x="167.8" y="333.5" class="pl" text-anchor="middle">a</text><path d="M520.5,318.9A11 11 0 0 0 520.5,334.1" fill="none" stroke="#000" stroke-width="1.9" stroke-linecap="round"/>
<path d="M534.1,318.9A11 11 0 0 1 534.1,334.1" fill="none" stroke="#000" stroke-width="1.9" stroke-linecap="round"/>
<text x="527.1" y="333.4" class="pl" text-anchor="middle">b</text><path d="M161.7,694.9A11 11 0 0 0 161.7,710.1" fill="none" stroke="#000" stroke-width="1.9" stroke-linecap="round"/>
<path d="M175.3,694.9A11 11 0 0 1 175.3,710.1" fill="none" stroke="#000" stroke-width="1.9" stroke-linecap="round"/>
<text x="168.3" y="709.4" class="pl" text-anchor="middle">c</text><path d="M520.5,694.9A11 11 0 0 0 520.5,710.1" fill="none" stroke="#000" stroke-width="1.9" stroke-linecap="round"/>
<path d="M534.1,694.9A11 11 0 0 1 534.1,710.1" fill="none" stroke="#000" stroke-width="1.9" stroke-linecap="round"/>
<text x="527.1" y="709.4" class="pl" text-anchor="middle">d</text>
</svg></body></html>
